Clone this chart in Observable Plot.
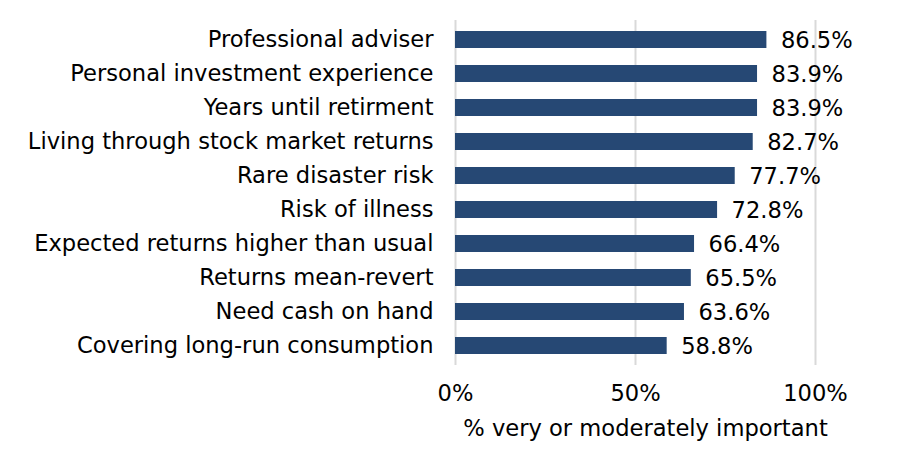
<!DOCTYPE html>
<html>
<head>
<meta charset="utf-8">
<script src="https://cdn.jsdelivr.net/npm/d3@7"></script>
<script src="https://cdn.jsdelivr.net/npm/@observablehq/plot@0.6"></script>
<style>
  html, body { margin: 0; padding: 0; background: #fff; }
  #chart svg { display: block; }
</style>
</head>
<body>
<div id="chart"></div>
<script>
const categories = [
  "Professional adviser",
  "Personal investment experience",
  "Years until retirment",
  "Living through stock market returns",
  "Rare disaster risk",
  "Risk of illness",
  "Expected returns higher than usual",
  "Returns mean-revert",
  "Need cash on hand",
  "Covering long-run consumption"
];
const values = [86.5, 83.9, 83.9, 82.7, 77.7, 72.8, 66.4, 65.5, 63.6, 58.8];
const xTicks = [0, 50, 100];
const xLabel = "% very or moderately important";

const data = categories.map((c, i) => ({category: c, value: values[i]}));

const FS = 22.6;
const chart = Plot.plot({
  width: 900,
  height: 476,
  marginLeft: 455,
  marginRight: 85,
  marginTop: 20,
  marginBottom: 111,
  style: {fontFamily: "DejaVu Sans, Verdana, sans-serif", fontSize: FS + "px", color: "#000", background: "#fff"},
  x: {domain: [0, 100], ticks: xTicks},
  y: {domain: categories, paddingInner: 0.5, paddingOuter: 0.25},
  marks: [
    Plot.gridX(xTicks, {stroke: "#d9d9d9", strokeWidth: 2, strokeOpacity: 1}),
    Plot.barX(data, {x: "value", y: "category", fill: "#264874"}),
    Plot.text(data, {x: "value", y: "category", text: d => d.value.toFixed(1) + "%", textAnchor: "start", dx: 14, dy: 1, fill: "#000", fontSize: FS}),
    Plot.axisY({tickSize: 0, tickPadding: 22, label: null, fontSize: FS}),
    Plot.axisX(xTicks, {tickSize: 0, tickPadding: 19, tickFormat: d => d + "%", label: null, fontSize: FS}),
    Plot.text([xLabel], {frameAnchor: "bottom", dy: 70, dx: 10, fontSize: FS, fill: "#000"})
  ]
});
document.getElementById("chart").append(chart);
</script>
</body>
</html>
